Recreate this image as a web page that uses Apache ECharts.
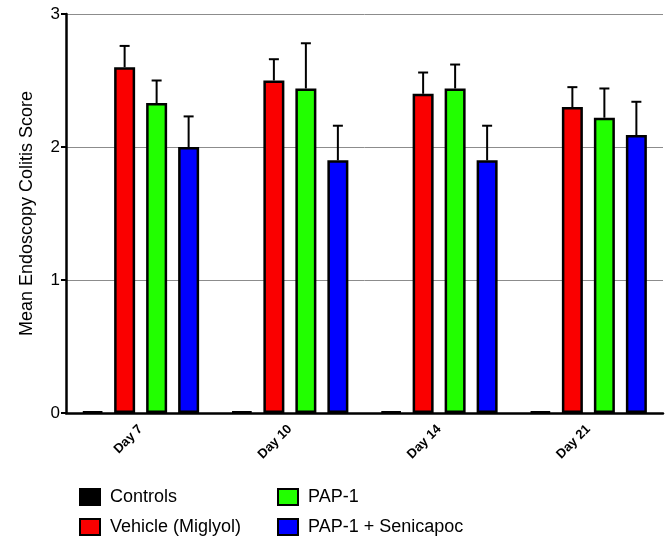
<!DOCTYPE html>
<html>
<head>
<meta charset="utf-8">
<script src="https://cdn.jsdelivr.net/npm/echarts@6/dist/echarts.min.js"></script>
<style>
html,body{margin:0;padding:0;background:#fff;}
#chart{width:667px;height:538px;}
</style>
</head>
<body>
<div id="chart"></div>
<script>
const categories = ['Day 7', 'Day 10', 'Day 14', 'Day 21'];
const seriesNames = ['Controls', 'Vehicle (Miglyol)', 'PAP-1', 'PAP-1 + Senicapoc'];
const controlsMean = [0.01, 0.01, 0.01, 0.01];
const vehicleMean = [2.60, 2.50, 2.40, 2.30];
const vehicleErr = [0.16, 0.16, 0.16, 0.15];
const pap1Mean = [2.33, 2.44, 2.44, 2.22];
const pap1Err = [0.17, 0.34, 0.18, 0.22];
const senicapocMean = [2.00, 1.90, 1.90, 2.09];
const senicapocErr = [0.23, 0.26, 0.26, 0.25];
const yTicks = [0, 1, 2, 3];

const colors = ['#000000', '#fa0000', '#22ff00', '#0000ff'];
const BAR_W = 21;
const BAR_GAP = 11;
const FONT = '"Liberation Sans", Arial, sans-serif';

const means = [controlsMean, vehicleMean, pap1Mean, senicapocMean];
const errs = [null, vehicleErr, pap1Err, senicapocErr];

const barSeries = means.map((m, i) => ({
  name: seriesNames[i],
  type: 'bar',
  data: m,
  barWidth: BAR_W,
  barGap: (BAR_GAP / BAR_W * 100) + '%',
  itemStyle: { color: colors[i], borderColor: '#000', borderWidth: 2.5 },
  z: 3
}));

const errSeries = [];
errs.forEach((e, i) => {
  if (!e) return;
  const offset = (i - 1.5) * (BAR_W + BAR_GAP);
  errSeries.push({
    type: 'custom',
    z: 2,
    data: means[i].map((m, j) => [j, m, m + e[j]]),
    encode: { x: 0, y: [1, 2] },
    renderItem: function (params, api) {
      const b = api.coord([api.value(0), api.value(1)]);
      const t = api.coord([api.value(0), api.value(2)]);
      const x = b[0] + offset;
      return {
        type: 'group',
        children: [
          { type: 'line', shape: { x1: x, y1: b[1], x2: x, y2: t[1] }, style: { stroke: '#000', lineWidth: 2 } },
          { type: 'line', shape: { x1: x - 5, y1: t[1], x2: x + 5, y2: t[1] }, style: { stroke: '#000', lineWidth: 2 } }
        ]
      };
    }
  });
});

const legendCommon = {
  top: 488, orient: 'vertical', itemGap: 12, padding: 0,
  itemWidth: 20, itemHeight: 16, icon: 'rect',
  textStyle: { fontSize: 18, color: '#000', fontFamily: FONT, padding: [0, 0, 0, 5] }
};

const chart = echarts.init(document.getElementById('chart'), null, { renderer: 'canvas' });
chart.setOption({
  animation: false,
  backgroundColor: '#fff',
  textStyle: { fontFamily: FONT },
  grid: { left: 66, right: 4, top: 14, bottom: 125, containLabel: false },
  legend: [
    Object.assign({ left: 79, data: [seriesNames[0], seriesNames[1]] }, legendCommon),
    Object.assign({ left: 277, data: [seriesNames[2], seriesNames[3]] }, legendCommon)
  ],
  xAxis: {
    type: 'category',
    data: categories,
    axisLine: { lineStyle: { color: '#000', width: 2.5 } },
    axisTick: { alignWithLabel: true, length: 7, lineStyle: { color: '#000', width: 2 } },
    axisLabel: { rotate: 45, fontSize: 13, fontWeight: 'bold', color: '#000', margin: 14, fontFamily: FONT }
  },
  yAxis: {
    type: 'value',
    min: yTicks[0], max: yTicks[yTicks.length - 1], interval: 1,
    name: 'Mean Endoscopy Colitis Score',
    nameLocation: 'middle',
    nameGap: 30,
    nameTextStyle: { fontSize: 18, color: '#000', fontFamily: FONT },
    axisLine: { show: true, lineStyle: { color: '#000', width: 2.5 } },
    axisTick: { show: true, length: 5, lineStyle: { color: '#000', width: 2 } },
    axisLabel: { fontSize: 17, color: '#000', margin: 6, fontFamily: FONT },
    splitLine: { show: true, lineStyle: { color: '#8c8c8c', width: 1 } }
  },
  series: barSeries.concat(errSeries)
});
</script>
</body>
</html>
